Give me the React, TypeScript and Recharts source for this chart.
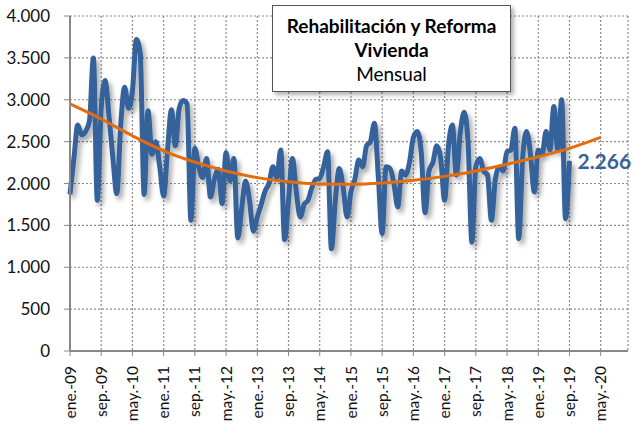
import { CartesianGrid, LabelList, Line, LineChart, XAxis, YAxis } from 'recharts';

const MESES = ['ene.', 'feb.', 'mar.', 'abr.', 'may.', 'jun.', 'jul.', 'ago.', 'sep.', 'oct.', 'nov.', 'dic.'];
const ANYOS = ['09', '10', '11', '12', '13', '14', '15', '16', '17', '18', '19', '20'];

// ene.-09 ... sep.-19
const mensual = [
  1870, 2300, 2700, 2580, 2620, 2750, 3500, 1800, 2900, 3230, 2800, 2300,
  1880, 2700, 3150, 2900, 3100, 3720, 3550, 1870, 2870, 2350, 2500, 2200,
  1850, 2400, 2880, 2450, 2900, 2990, 2950, 1560, 2420, 2200, 2070, 2300,
  1840, 2050, 2170, 1760, 2370, 2030, 2300, 1350, 1700, 2030, 1800, 1430,
  1600, 1750, 1910, 2000, 2200, 2070, 2400, 1330, 1800, 2300, 1900, 1600,
  1750, 1800, 1950, 2050, 2060, 2200, 2380, 1220, 1800, 2180, 1950, 1600,
  1900, 2050, 2280, 2200, 2450, 2500, 2720, 2100, 1400, 2200, 2180, 2000,
  1720, 2150, 2100, 2250, 2550, 2620, 2380, 1650, 2150, 2250, 2450, 2300,
  1800, 2450, 2700, 2100, 2600, 2850, 2500, 1300, 2200, 2300, 2150, 2100,
  1560, 2050, 2200, 2150, 2380, 2400, 2660, 1340, 2300, 2620, 2350, 1900,
  2400, 2350, 2620, 2400, 2920, 2400, 3000, 1580, 2266,
];

// tendencia polinómica, leída cada 8 meses (ene.-09 ... may.-20)
const tendencia = [2950, 2770, 2570, 2390, 2255, 2150, 2070, 2020, 1995, 1990, 2005, 2040, 2085, 2150, 2230, 2320, 2420, 2550];

const yTicks = [0, 500, 1000, 1500, 2000, 2500, 3000, 3500, 4000];

const categorias = ANYOS.flatMap((a) => MESES.map((m) => `${m}-${a}`));
const xTicks = categorias.filter((_, i) => i % 8 === 0);

const data = categorias.map((mes, i) => ({
  mes,
  valor: i < mensual.length ? mensual[i] : null,
  tendencia: i % 8 === 0 && i / 8 < tendencia.length ? tendencia[i / 8] : null,
}));

const FONT = 'Lato, "Liberation Sans", sans-serif';

const XTick = ({ x, y, payload }: any) => (
  <text
    x={x}
    y={y + 8}
    dy="0.36em"
    transform={`rotate(-90, ${x}, ${y + 8})`}
    textAnchor="end"
    fontSize={15.5}
    fontFamily={FONT}
    fill="#111"
  >
    {payload.value}
  </text>
);

const UltimoValor = (props: any) => {
  const { x, y, index, value } = props;
  if (index !== mensual.length - 1) return null;
  return (
    <text x={x + 8} y={y + 8} fontSize={21} fontWeight="bold" fontFamily={FONT} fill="#35629a">
      {Number(value).toLocaleString('de-DE')}
    </text>
  );
};

export default function App() {
  return (
    <div style={{ position: 'absolute', left: 0, top: 0, width: 633, height: 425, background: '#fff' }}>
      <LineChart width={633} height={425} data={data} margin={{ top: 16, right: 5, bottom: 0, left: 0 }}>
        <defs>
          <filter id="sombra" x="-10%" y="-10%" width="130%" height="130%">
            <feDropShadow dx="3" dy="4" stdDeviation="2.5" floodColor="#000" floodOpacity="0.35" />
          </filter>
        </defs>
        <CartesianGrid stroke="#8c8c8c" strokeDasharray="2 2" strokeWidth={1.2} />
        <XAxis
          dataKey="mes"
          ticks={xTicks}
          interval={0}
          height={74}
          tick={<XTick />}
          tickSize={5}
          axisLine={{ stroke: '#888', strokeWidth: 2 }}
          tickLine={{ stroke: '#888' }}
        />
        <YAxis
          domain={[0, 4000]}
          ticks={yTicks}
          width={70}
          tickSize={6}
          tickMargin={14}
          interval={0}
          axisLine={{ stroke: '#888', strokeWidth: 2 }}
          tickLine={{ stroke: '#888' }}
          tick={{ fontSize: 17, fontFamily: FONT, fill: '#111' }}
          tickFormatter={(v: number) => v.toLocaleString('de-DE')}
        />
        <YAxis yAxisId="borde" orientation="right" width={0} tick={false} tickLine={false} axisLine={{ stroke: '#999', strokeWidth: 1.5 }} />
        <Line
          dataKey="valor"
          type="monotone"
          stroke="#35629a"
          strokeWidth={5}
          dot={false}
          filter="url(#sombra)"
          isAnimationActive={false}
        >
          <LabelList dataKey="valor" content={<UltimoValor />} />
        </Line>
        <Line
          dataKey="tendencia"
          type="monotone"
          connectNulls
          stroke="#e46c0a"
          strokeWidth={3}
          dot={false}
          isAnimationActive={false}
        />
      </LineChart>
      <div
        style={{
          position: 'absolute',
          left: 272,
          top: 5,
          width: 239,
          height: 87,
          border: '1.5px solid #555',
          background: '#fff',
          boxShadow: '3px 3px 4px rgba(0,0,0,0.3)',
          fontFamily: FONT,
          textAlign: 'center',
          color: '#000',
          paddingTop: 8,
          boxSizing: 'border-box',
        }}
      >
        <div style={{ fontSize: 19, fontWeight: 'bold', lineHeight: '24px', whiteSpace: 'nowrap' }}>Rehabilitación y Reforma</div>
        <div style={{ fontSize: 19, fontWeight: 'bold', lineHeight: '24px' }}>Vivienda</div>
        <div style={{ fontSize: 19, lineHeight: '24px' }}>Mensual</div>
      </div>
    </div>
  );
}
